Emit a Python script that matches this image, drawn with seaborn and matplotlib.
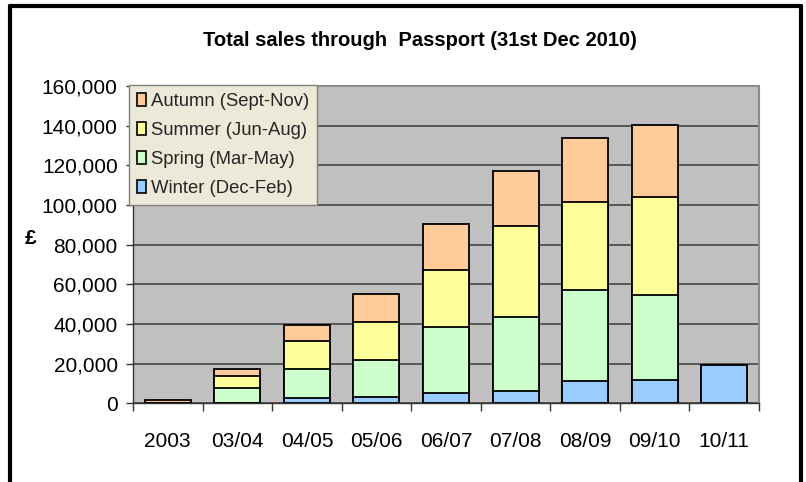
import matplotlib
matplotlib.use("Agg")
import matplotlib.pyplot as plt
import seaborn as sns
import pandas as pd
import numpy as np
from matplotlib.patches import Patch
from matplotlib.lines import Line2D
from matplotlib.ticker import FuncFormatter, MultipleLocator

periods = ["2003", "03/04", "04/05", "05/06", "06/07", "07/08", "08/09", "09/10", "10/11"]
winter = [0, 0, 2500, 3000, 5000, 6200, 11250, 11750, 19500]
spring = [0, 7600, 14650, 19000, 33300, 37200, 45900, 42850, 0]
summer = [0, 6200, 14250, 19150, 28900, 46200, 44200, 49450, 0]
autumn = [1500, 3500, 8100, 13950, 23000, 27600, 32450, 36300, 0]

series_names = ["Winter (Dec-Feb)", "Spring (Mar-May)", "Summer (Jun-Aug)", "Autumn (Sept-Nov)"]
series_colors = ["#99CCFF", "#CCFFCC", "#FFFF99", "#FFCC99"]
title = "Total sales through  Passport (31st Dec 2010)"

sns.set_theme(style="white")
plt.rcParams["font.family"] = ["Liberation Sans", "DejaVu Sans"]

fig = plt.figure(figsize=(8.06, 4.82), dpi=100)
ax = fig.add_axes([133 / 806, 1 - 403.3 / 482, (759 - 133) / 806, (403.3 - 86) / 482])
ax.set_facecolor("#C0C0C0")

cum = np.cumsum(np.array([winter, spring, summer, autumn]), axis=0)
for i in range(3, -1, -1):
    d = pd.DataFrame({"period": periods, "value": cum[i]})
    sns.barplot(data=d, x="period", y="value", color=series_colors[i], saturation=1,
                width=0.66, edgecolor="black", linewidth=1.3, ax=ax, zorder=3)

ax.set_xlim(-0.5, len(periods) - 0.5)
ax.set_ylim(0, 160000)
ax.yaxis.set_major_locator(MultipleLocator(20000))
ax.yaxis.set_major_formatter(FuncFormatter(lambda v, p: f"{int(v):,}"))
ax.grid(axis="y", color="#3a3a3a", linewidth=1.1, zorder=1)
ax.set_axisbelow(True)
ax.set_xlabel("")
ax.set_ylabel("")

ax.set_xticks(np.arange(len(periods)))
ax.set_xticklabels(periods)
ax.set_xticks(np.arange(-0.5, len(periods)), minor=True)
ax.tick_params(axis="x", which="major", length=0, pad=21, labelsize=15, colors="black")
ax.tick_params(axis="x", which="minor", length=6, width=1, direction="out", color="#333333", bottom=True)
ax.tick_params(axis="y", which="major", length=5, width=1, direction="out", color="#333333",
               left=True, labelsize=15, pad=6, labelcolor="black")

for s in ["top", "right"]:
    ax.spines[s].set_color("#8c8c8c")
    ax.spines[s].set_linewidth(1.5)
for s in ["left", "bottom"]:
    ax.spines[s].set_color("#333333")
    ax.spines[s].set_linewidth(1.0)

handles = [Patch(facecolor=series_colors[i], edgecolor="black", linewidth=1.2, label=series_names[i])
           for i in range(3, -1, -1)]
leg = ax.legend(handles=handles, loc="upper left", bbox_to_anchor=(-0.006, 1.003),
                fontsize=13.3, frameon=True, fancybox=False, facecolor="#ECE9D8",
                edgecolor="#808080", framealpha=1, handlelength=0.5, handleheight=0.7,
                handletextpad=0.25, labelspacing=0.65, borderpad=0.42, borderaxespad=0)
leg.get_frame().set_linewidth(1.0)
leg.set_zorder(5)

fig.text(420 / 806, 1 - 41 / 482, title, ha="center", va="center", fontsize=14.5,
         fontweight="bold", color="black")
fig.text(31 / 806, 1 - 238 / 482, "£", ha="center", va="center", fontsize=15,
         fontweight="bold", color="black")

# outer frame of the chart object
fig.add_artist(Line2D([10 / 806, 801 / 806], [1 - 6 / 482, 1 - 6 / 482], color="black", linewidth=3,
                      transform=fig.transFigure))
fig.add_artist(Line2D([10 / 806, 10 / 806], [0, 1 - 6 / 482], color="black", linewidth=3,
                      transform=fig.transFigure))
fig.add_artist(Line2D([801 / 806, 801 / 806], [0, 1 - 6 / 482], color="black", linewidth=3,
                      transform=fig.transFigure))

fig.savefig("out.png", dpi=100, facecolor="white")
